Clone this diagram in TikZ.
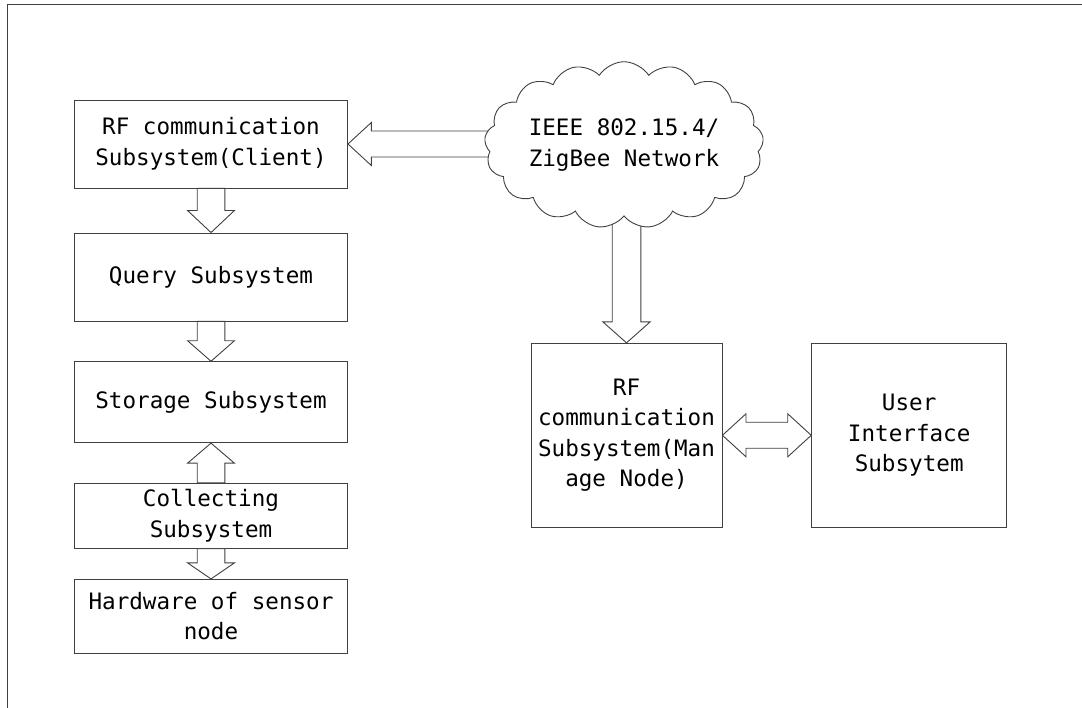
\documentclass[tikz,border=0pt]{standalone}
\usepackage{fontspec}
\setmonofont{DejaVu Sans Mono}
\usetikzlibrary{shapes.symbols,calc,backgrounds}

\tikzset{
  ln/.style={draw=black!75, line width=0.9pt},
  box/.style={ln, rectangle, fill=white, inner sep=0pt, align=center,
    font=\ttfamily\fontsize{22.6}{30.5}\selectfont, text=black},
  blk/.style={ln, fill=white, line join=miter},
  net/.style={ln, cloud, fill=white, cloud puffs=17, cloud puff arc=115,
    aspect=1.9, inner sep=0pt, minimum width=268pt, minimum height=140pt,
    align=center, font=\ttfamily\fontsize{22.6}{30.5}\selectfont, text=black}
}

% block arrows: #1 source node, #2 target node, #3 head length,
% #4 head half width, #5 shaft half width
\newcommand\blockdown[5]{%
  \draw[blk] let \p1=(#1), \p2=(#2.north) in
    (\x2,\y2) -- (\x2-#4pt,\y2+#3pt) -- (\x2-#5pt,\y2+#3pt) -- (\x2-#5pt,\y1)
    -- (\x2+#5pt,\y1) -- (\x2+#5pt,\y2+#3pt) -- (\x2+#4pt,\y2+#3pt) -- cycle;}
\newcommand\blockup[5]{%
  \draw[blk] let \p1=(#1.north), \p2=(#2.south) in
    (\x2,\y2) -- (\x2-#4pt,\y2-#3pt) -- (\x2-#5pt,\y2-#3pt) -- (\x2-#5pt,\y1)
    -- (\x2+#5pt,\y1) -- (\x2+#5pt,\y2-#3pt) -- (\x2+#4pt,\y2-#3pt) -- cycle;}
\newcommand\blockleft[5]{%
  \draw[blk] let \p1=(#1), \p2=(#2.east) in
    (\x2,\y2) -- (\x2+#3pt,\y2+#4pt) -- (\x2+#3pt,\y2+#5pt) -- (\x1,\y2+#5pt)
    -- (\x1,\y2-#5pt) -- (\x2+#3pt,\y2-#5pt) -- (\x2+#3pt,\y2-#4pt) -- cycle;}
\newcommand\blockboth[5]{%
  \draw[blk] let \p1=(#1.east), \p2=(#2.west) in
    (\x1,\y1) -- (\x1+#3pt,\y1+#4pt) -- (\x1+#3pt,\y1+#5pt) -- (\x2-#3pt,\y1+#5pt)
    -- (\x2-#3pt,\y1+#4pt) -- (\x2,\y1) -- (\x2-#3pt,\y1-#4pt) -- (\x2-#3pt,\y1-#5pt)
    -- (\x1+#3pt,\y1-#5pt) -- (\x1+#3pt,\y1-#4pt) -- cycle;}

\begin{document}
\begin{tikzpicture}[x=1pt, y=-1pt]
  \useasboundingbox (0,0) rectangle (1082,708);

  % outer frame (top and left edges)
  \draw[ln] (1082,4.3) -- (7.9,4.3) -- (7.9,708);

  % sensor node column
  \node[box, minimum width=273pt, minimum height=88pt] (rfc) at (211,144)
    {RF communication\\Subsystem(Client)};
  \node[box, minimum width=273pt, minimum height=88pt] (query) at (211,277)
    {Query Subsystem};
  \node[box, minimum width=273pt, minimum height=81pt] (store) at (211,402.2)
    {Storage Subsystem};
  \node[box, minimum width=273pt, minimum height=65pt] (collect) at (211,515.8)
    {Collecting\\Subsystem};
  \node[box, minimum width=273pt, minimum height=73.7pt] (hw) at (211,616.2)
    {Hardware of sensor\\node};

  % network and management side
  \node[net] (zig) at (624,145) {IEEE 802.15.4/\\ZigBee Network};
  \node[box, minimum width=191pt, minimum height=184pt] (mgr) at (626.5,435.3)
    {RF\\communication\\Subsystem(Man\\age Node)};
  \node[box, minimum width=195pt, minimum height=184pt] (ui) at (909.2,435.3)
    {User\\Interface\\Subsytem};

  \begin{pgfonlayer}{background}
    \blockleft{zig.center}{rfc}{23.4}{21.5}{13}
    \blockdown{zig.center}{mgr}{21}{23.7}{14.3}
  \end{pgfonlayer}

  \blockdown{rfc.south}{query}{22}{23.4}{13.8}
  \blockdown{query.south}{store}{20.5}{23.4}{13.8}
  \blockup{collect}{store}{20}{23.4}{13.8}
  \blockdown{collect.south}{hw}{16}{23.4}{13.8}
  \blockboth{mgr}{ui}{23.5}{21.5}{13}
\end{tikzpicture}
\end{document}
